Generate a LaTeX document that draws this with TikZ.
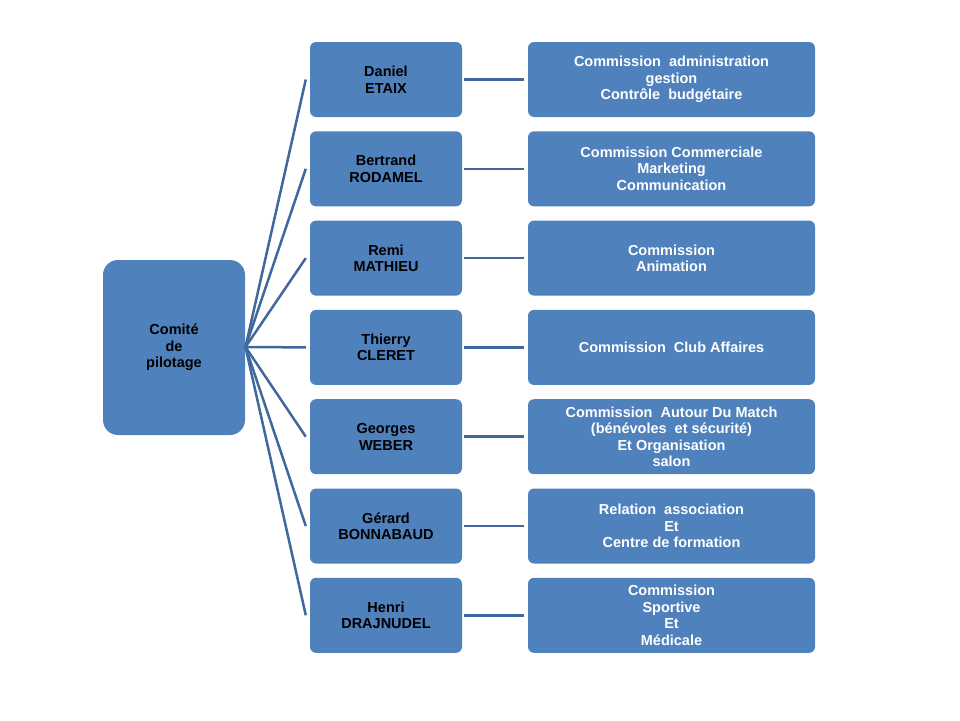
\documentclass[tikz,border=0pt]{standalone}
\usepackage{fontspec}
\setmainfont{Liberation Sans}
\definecolor{boxblue}{HTML}{4F81BD}
\definecolor{linkblue}{HTML}{41689C}
\begin{document}
\begin{tikzpicture}[x=1pt,y=-1pt,
  base/.style={fill=boxblue,draw=none,align=center,font=\fontsize{14.5}{16.5}\selectfont\bfseries,inner sep=0pt},
  rootbox/.style={base,rounded corners=15pt,minimum width=142pt,minimum height=175pt,text=black},
  personbox/.style={base,rounded corners=6pt,minimum width=152pt,minimum height=75pt,text=black},
  taskbox/.style={base,rounded corners=6pt,minimum width=287pt,minimum height=75pt,text=white},
  link/.style={draw=linkblue,line width=2.5pt}]
\useasboundingbox (0,0) rectangle (960,720);
\node[rootbox] (root) at (174,347.5) {Comité\\de\\pilotage};
\coordinate (hub) at (245.5,347);
\foreach \i/\p/\t in {
 0/{Daniel\\ETAIX}/{Commission\ \ administration\\gestion\\Contrôle\ \ budgétaire},
 1/{Bertrand\\RODAMEL}/{Commission Commerciale\\Marketing\\Communication},
 2/{Remi\\MATHIEU}/{Commission\\Animation},
 3/{Thierry\\CLERET}/{Commission\ \ Club Affaires},
 4/{Georges\\WEBER}/{Commission\ \ Autour Du Match\\(bénévoles\ \ et sécurité)\\Et Organisation\\salon},
 5/{Gérard\\BONNABAUD}/{Relation\ \ association\\Et\\Centre de formation},
 6/{Henri\\DRAJNUDEL}/{Commission\\Sportive\\Et\\Médicale}}{
  \pgfmathsetmacro{\yc}{79.5+89.3*\i}
  \node[personbox] (p\i) at (386,\yc) {\p};
  \node[taskbox] (t\i) at (671.5,\yc) {\t};
  \draw[link] (hub) -- ([xshift=-4pt]p\i.west);
  \draw[link] ([xshift=2pt]p\i.east) -- ([xshift=-4pt]t\i.west);
}
\end{tikzpicture}
\end{document}
